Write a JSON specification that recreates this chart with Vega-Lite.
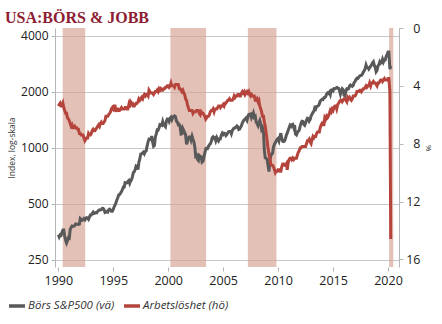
{
  "$schema": "https://vega.github.io/schema/vega-lite/v6.json",
  "width": 344,
  "height": 239,
  "autosize": {"type": "none"},
  "padding": {"left": 55, "top": 28, "right": 43, "bottom": 57},
  "title": {"text": "USA:BÖRS & JOBB", "anchor": "start", "frame": "group", "dx": -50, "dy": 4, "font": "Liberation Serif", "fontSize": 16, "fontWeight": "bold", "color": "#8c1d32", "offset": 0},
  "config": {
    "view": {"stroke": null},
    "axis": {"labelFont": "Open Sans", "titleFont": "Open Sans", "labelColor": "#222", "titleColor": "#333", "domainColor": "#b5b5b5", "tickColor": "#b5b5b5", "gridColor": "#c8c8c8"},
    "legend": {"labelFont": "Open Sans"}
  },
  "datasets": {
    "rec": [{"a": 1990.4, "b": 1992.45}, {"a": 2000.2, "b": 2003.45}, {"a": 2007.25, "b": 2009.85}, {"a": 2020.1, "b": 2020.48}],
    "sp": [
      {"t":1990.0,"v":340},{"t":1990.08,"v":331},{"t":1990.17,"v":340},{"t":1990.25,"v":338},{"t":1990.33,"v":350},{"t":1990.42,"v":361},{"t":1990.5,"v":361},{"t":1990.58,"v":335},{"t":1990.67,"v":316},{"t":1990.75,"v":307},{"t":1990.83,"v":316},{"t":1990.92,"v":328},
      {"t":1991.0,"v":326},{"t":1991.08,"v":363},{"t":1991.17,"v":372},{"t":1991.25,"v":379},{"t":1991.33,"v":378},{"t":1991.42,"v":378},{"t":1991.5,"v":381},{"t":1991.58,"v":389},{"t":1991.67,"v":388},{"t":1991.75,"v":387},{"t":1991.83,"v":386},{"t":1991.92,"v":388},
      {"t":1992.0,"v":416},{"t":1992.08,"v":412},{"t":1992.17,"v":407},{"t":1992.25,"v":409},{"t":1992.33,"v":415},{"t":1992.42,"v":409},{"t":1992.5,"v":416},{"t":1992.58,"v":421},{"t":1992.67,"v":418},{"t":1992.75,"v":412},{"t":1992.83,"v":423},{"t":1992.92,"v":435},
      {"t":1993.0,"v":435},{"t":1993.08,"v":442},{"t":1993.17,"v":450},{"t":1993.25,"v":443},{"t":1993.33,"v":445},{"t":1993.42,"v":448},{"t":1993.5,"v":447},{"t":1993.58,"v":454},{"t":1993.67,"v":460},{"t":1993.75,"v":463},{"t":1993.83,"v":462},{"t":1993.92,"v":465},
      {"t":1994.0,"v":472},{"t":1994.08,"v":471},{"t":1994.17,"v":464},{"t":1994.25,"v":448},{"t":1994.33,"v":450},{"t":1994.42,"v":454},{"t":1994.5,"v":451},{"t":1994.58,"v":464},{"t":1994.67,"v":467},{"t":1994.75,"v":462},{"t":1994.83,"v":455},{"t":1994.92,"v":455},
      {"t":1995.0,"v":465},{"t":1995.08,"v":481},{"t":1995.17,"v":493},{"t":1995.25,"v":507},{"t":1995.33,"v":523},{"t":1995.42,"v":540},{"t":1995.5,"v":558},{"t":1995.58,"v":560},{"t":1995.67,"v":571},{"t":1995.75,"v":582},{"t":1995.83,"v":595},{"t":1995.92,"v":614},
      {"t":1996.0,"v":614},{"t":1996.08,"v":649},{"t":1996.17,"v":647},{"t":1996.25,"v":648},{"t":1996.33,"v":659},{"t":1996.42,"v":667},{"t":1996.5,"v":644},{"t":1996.58,"v":662},{"t":1996.67,"v":674},{"t":1996.75,"v":701},{"t":1996.83,"v":735},{"t":1996.92,"v":743},
      {"t":1997.0,"v":767},{"t":1997.08,"v":798},{"t":1997.17,"v":792},{"t":1997.25,"v":763},{"t":1997.33,"v":834},{"t":1997.42,"v":871},{"t":1997.5,"v":925},{"t":1997.58,"v":927},{"t":1997.67,"v":938},{"t":1997.75,"v":947},{"t":1997.83,"v":928},{"t":1997.92,"v":955},
      {"t":1998.0,"v":963},{"t":1998.08,"v":1023},{"t":1998.17,"v":1077},{"t":1998.25,"v":1112},{"t":1998.33,"v":1108},{"t":1998.42,"v":1108},{"t":1998.5,"v":1156},{"t":1998.58,"v":1074},{"t":1998.67,"v":1020},{"t":1998.75,"v":1032},{"t":1998.83,"v":1144},{"t":1998.92,"v":1191},
      {"t":1999.0,"v":1248},{"t":1999.08,"v":1246},{"t":1999.17,"v":1282},{"t":1999.25,"v":1334},{"t":1999.33,"v":1332},{"t":1999.42,"v":1322},{"t":1999.5,"v":1381},{"t":1999.58,"v":1328},{"t":1999.67,"v":1318},{"t":1999.75,"v":1300},{"t":1999.83,"v":1391},{"t":1999.92,"v":1429},
      {"t":2000.0,"v":1425},{"t":2000.08,"v":1388},{"t":2000.17,"v":1442},{"t":2000.25,"v":1461},{"t":2000.33,"v":1418},{"t":2000.42,"v":1462},{"t":2000.5,"v":1473},{"t":2000.58,"v":1485},{"t":2000.67,"v":1469},{"t":2000.75,"v":1390},{"t":2000.83,"v":1379},{"t":2000.92,"v":1330},
      {"t":2001.0,"v":1336},{"t":2001.08,"v":1305},{"t":2001.17,"v":1185},{"t":2001.25,"v":1189},{"t":2001.33,"v":1270},{"t":2001.42,"v":1238},{"t":2001.5,"v":1205},{"t":2001.58,"v":1179},{"t":2001.67,"v":1044},{"t":2001.75,"v":1077},{"t":2001.83,"v":1129},{"t":2001.92,"v":1144},
      {"t":2002.0,"v":1140},{"t":2002.08,"v":1101},{"t":2002.17,"v":1153},{"t":2002.25,"v":1112},{"t":2002.33,"v":1079},{"t":2002.42,"v":1014},{"t":2002.5,"v":903},{"t":2002.58,"v":912},{"t":2002.67,"v":867},{"t":2002.75,"v":855},{"t":2002.83,"v":910},{"t":2002.92,"v":900},
      {"t":2003.0,"v":895},{"t":2003.08,"v":837},{"t":2003.17,"v":846},{"t":2003.25,"v":890},{"t":2003.33,"v":936},{"t":2003.42,"v":988},{"t":2003.5,"v":992},{"t":2003.58,"v":990},{"t":2003.67,"v":1019},{"t":2003.75,"v":1039},{"t":2003.83,"v":1050},{"t":2003.92,"v":1081},
      {"t":2004.0,"v":1132},{"t":2004.08,"v":1144},{"t":2004.17,"v":1124},{"t":2004.25,"v":1131},{"t":2004.33,"v":1091},{"t":2004.42,"v":1133},{"t":2004.5,"v":1106},{"t":2004.58,"v":1088},{"t":2004.67,"v":1118},{"t":2004.75,"v":1118},{"t":2004.83,"v":1168},{"t":2004.92,"v":1199},
      {"t":2005.0,"v":1181},{"t":2005.08,"v":1199},{"t":2005.17,"v":1195},{"t":2005.25,"v":1165},{"t":2005.33,"v":1179},{"t":2005.42,"v":1202},{"t":2005.5,"v":1222},{"t":2005.58,"v":1224},{"t":2005.67,"v":1226},{"t":2005.75,"v":1191},{"t":2005.83,"v":1237},{"t":2005.92,"v":1262},
      {"t":2006.0,"v":1278},{"t":2006.08,"v":1277},{"t":2006.17,"v":1294},{"t":2006.25,"v":1310},{"t":2006.33,"v":1295},{"t":2006.42,"v":1254},{"t":2006.5,"v":1260},{"t":2006.58,"v":1287},{"t":2006.67,"v":1317},{"t":2006.75,"v":1363},{"t":2006.83,"v":1389},{"t":2006.92,"v":1416},
      {"t":2007.0,"v":1424},{"t":2007.08,"v":1444},{"t":2007.17,"v":1407},{"t":2007.25,"v":1464},{"t":2007.33,"v":1511},{"t":2007.42,"v":1515},{"t":2007.5,"v":1520},{"t":2007.58,"v":1455},{"t":2007.67,"v":1497},{"t":2007.75,"v":1539},{"t":2007.83,"v":1463},{"t":2007.92,"v":1479},
      {"t":2008.0,"v":1378},{"t":2008.08,"v":1354},{"t":2008.17,"v":1317},{"t":2008.25,"v":1370},{"t":2008.33,"v":1404},{"t":2008.42,"v":1341},{"t":2008.5,"v":1257},{"t":2008.58,"v":1281},{"t":2008.67,"v":1217},{"t":2008.75,"v":969},{"t":2008.83,"v":883},{"t":2008.92,"v":878},
      {"t":2009.0,"v":866},{"t":2009.08,"v":806},{"t":2009.17,"v":745},{"t":2009.25,"v":848},{"t":2009.33,"v":902},{"t":2009.42,"v":926},{"t":2009.5,"v":935},{"t":2009.58,"v":1010},{"t":2009.67,"v":1045},{"t":2009.75,"v":1067},{"t":2009.83,"v":1088},{"t":2009.92,"v":1111},
      {"t":2010.0,"v":1123},{"t":2010.08,"v":1089},{"t":2010.17,"v":1152},{"t":2010.25,"v":1197},{"t":2010.33,"v":1125},{"t":2010.42,"v":1083},{"t":2010.5,"v":1080},{"t":2010.58,"v":1088},{"t":2010.67,"v":1122},{"t":2010.75,"v":1171},{"t":2010.83,"v":1199},{"t":2010.92,"v":1242},
      {"t":2011.0,"v":1282},{"t":2011.08,"v":1321},{"t":2011.17,"v":1304},{"t":2011.25,"v":1331},{"t":2011.33,"v":1338},{"t":2011.42,"v":1287},{"t":2011.5,"v":1325},{"t":2011.58,"v":1185},{"t":2011.67,"v":1173},{"t":2011.75,"v":1207},{"t":2011.83,"v":1226},{"t":2011.92,"v":1243},
      {"t":2012.0,"v":1300},{"t":2012.08,"v":1352},{"t":2012.17,"v":1389},{"t":2012.25,"v":1386},{"t":2012.33,"v":1341},{"t":2012.42,"v":1323},{"t":2012.5,"v":1359},{"t":2012.58,"v":1404},{"t":2012.67,"v":1444},{"t":2012.75,"v":1437},{"t":2012.83,"v":1394},{"t":2012.92,"v":1422},
      {"t":2013.0,"v":1480},{"t":2013.08,"v":1512},{"t":2013.17,"v":1550},{"t":2013.25,"v":1570},{"t":2013.33,"v":1639},{"t":2013.42,"v":1619},{"t":2013.5,"v":1669},{"t":2013.58,"v":1671},{"t":2013.67,"v":1688},{"t":2013.75,"v":1720},{"t":2013.83,"v":1784},{"t":2013.92,"v":1807},
      {"t":2014.0,"v":1822},{"t":2014.08,"v":1817},{"t":2014.17,"v":1863},{"t":2014.25,"v":1864},{"t":2014.33,"v":1889},{"t":2014.42,"v":1947},{"t":2014.5,"v":1973},{"t":2014.58,"v":1961},{"t":2014.67,"v":1993},{"t":2014.75,"v":1937},{"t":2014.83,"v":2044},{"t":2014.92,"v":2054},
      {"t":2015.0,"v":2028},{"t":2015.08,"v":2083},{"t":2015.17,"v":2080},{"t":2015.25,"v":2095},{"t":2015.33,"v":2111},{"t":2015.42,"v":2099},{"t":2015.5,"v":2094},{"t":2015.58,"v":2039},{"t":2015.67,"v":1944},{"t":2015.75,"v":2024},{"t":2015.83,"v":2080},{"t":2015.92,"v":2054},
      {"t":2016.0,"v":1919},{"t":2016.08,"v":1904},{"t":2016.17,"v":2022},{"t":2016.25,"v":2075},{"t":2016.33,"v":2065},{"t":2016.42,"v":2084},{"t":2016.5,"v":2149},{"t":2016.58,"v":2177},{"t":2016.67,"v":2158},{"t":2016.75,"v":2143},{"t":2016.83,"v":2165},{"t":2016.92,"v":2247},
      {"t":2017.0,"v":2275},{"t":2017.08,"v":2330},{"t":2017.17,"v":2366},{"t":2017.25,"v":2359},{"t":2017.33,"v":2395},{"t":2017.42,"v":2434},{"t":2017.5,"v":2454},{"t":2017.58,"v":2456},{"t":2017.67,"v":2493},{"t":2017.75,"v":2557},{"t":2017.83,"v":2594},{"t":2017.92,"v":2665},
      {"t":2018.0,"v":2790},{"t":2018.08,"v":2705},{"t":2018.17,"v":2703},{"t":2018.25,"v":2654},{"t":2018.33,"v":2701},{"t":2018.42,"v":2754},{"t":2018.5,"v":2794},{"t":2018.58,"v":2858},{"t":2018.67,"v":2902},{"t":2018.75,"v":2785},{"t":2018.83,"v":2723},{"t":2018.92,"v":2567},
      {"t":2019.0,"v":2607},{"t":2019.08,"v":2754},{"t":2019.17,"v":2804},{"t":2019.25,"v":2903},{"t":2019.33,"v":2854},{"t":2019.42,"v":2890},{"t":2019.5,"v":2996},{"t":2019.58,"v":2897},{"t":2019.67,"v":2983},{"t":2019.75,"v":2977},{"t":2019.83,"v":3104},{"t":2019.92,"v":3177},
      {"t":2020.0,"v":3278},{"t":2020.08,"v":3277},{"t":2020.17,"v":2652},{"t":2020.25,"v":2761}
    ],
    "u": [
      {"t":1990.0,"v":5.4},{"t":1990.08,"v":5.3},{"t":1990.17,"v":5.2},{"t":1990.25,"v":5.4},{"t":1990.33,"v":5.4},{"t":1990.42,"v":5.2},{"t":1990.5,"v":5.5},{"t":1990.58,"v":5.7},{"t":1990.67,"v":5.9},{"t":1990.75,"v":5.9},{"t":1990.83,"v":6.2},{"t":1990.92,"v":6.3},
      {"t":1991.0,"v":6.4},{"t":1991.08,"v":6.6},{"t":1991.17,"v":6.8},{"t":1991.25,"v":6.7},{"t":1991.33,"v":6.9},{"t":1991.42,"v":6.9},{"t":1991.5,"v":6.8},{"t":1991.58,"v":6.9},{"t":1991.67,"v":6.9},{"t":1991.75,"v":7.0},{"t":1991.83,"v":7.0},{"t":1991.92,"v":7.3},
      {"t":1992.0,"v":7.3},{"t":1992.08,"v":7.4},{"t":1992.17,"v":7.4},{"t":1992.25,"v":7.4},{"t":1992.33,"v":7.6},{"t":1992.42,"v":7.8},{"t":1992.5,"v":7.7},{"t":1992.58,"v":7.6},{"t":1992.67,"v":7.6},{"t":1992.75,"v":7.3},{"t":1992.83,"v":7.4},{"t":1992.92,"v":7.4},
      {"t":1993.0,"v":7.3},{"t":1993.08,"v":7.1},{"t":1993.17,"v":7.0},{"t":1993.25,"v":7.1},{"t":1993.33,"v":7.1},{"t":1993.42,"v":7.0},{"t":1993.5,"v":6.9},{"t":1993.58,"v":6.8},{"t":1993.67,"v":6.7},{"t":1993.75,"v":6.8},{"t":1993.83,"v":6.6},{"t":1993.92,"v":6.5},
      {"t":1994.0,"v":6.6},{"t":1994.08,"v":6.6},{"t":1994.17,"v":6.5},{"t":1994.25,"v":6.4},{"t":1994.33,"v":6.1},{"t":1994.42,"v":6.1},{"t":1994.5,"v":6.1},{"t":1994.58,"v":6.0},{"t":1994.67,"v":5.9},{"t":1994.75,"v":5.8},{"t":1994.83,"v":5.6},{"t":1994.92,"v":5.5},
      {"t":1995.0,"v":5.6},{"t":1995.08,"v":5.4},{"t":1995.17,"v":5.4},{"t":1995.25,"v":5.8},{"t":1995.33,"v":5.6},{"t":1995.42,"v":5.6},{"t":1995.5,"v":5.7},{"t":1995.58,"v":5.7},{"t":1995.67,"v":5.6},{"t":1995.75,"v":5.5},{"t":1995.83,"v":5.6},{"t":1995.92,"v":5.6},
      {"t":1996.0,"v":5.6},{"t":1996.08,"v":5.5},{"t":1996.17,"v":5.5},{"t":1996.25,"v":5.6},{"t":1996.33,"v":5.6},{"t":1996.42,"v":5.3},{"t":1996.5,"v":5.5},{"t":1996.58,"v":5.1},{"t":1996.67,"v":5.2},{"t":1996.75,"v":5.2},{"t":1996.83,"v":5.4},{"t":1996.92,"v":5.4},
      {"t":1997.0,"v":5.3},{"t":1997.08,"v":5.2},{"t":1997.17,"v":5.2},{"t":1997.25,"v":5.1},{"t":1997.33,"v":4.9},{"t":1997.42,"v":5.0},{"t":1997.5,"v":4.9},{"t":1997.58,"v":4.8},{"t":1997.67,"v":4.9},{"t":1997.75,"v":4.7},{"t":1997.83,"v":4.6},{"t":1997.92,"v":4.7},
      {"t":1998.0,"v":4.6},{"t":1998.08,"v":4.6},{"t":1998.17,"v":4.7},{"t":1998.25,"v":4.3},{"t":1998.33,"v":4.4},{"t":1998.42,"v":4.5},{"t":1998.5,"v":4.5},{"t":1998.58,"v":4.5},{"t":1998.67,"v":4.6},{"t":1998.75,"v":4.5},{"t":1998.83,"v":4.4},{"t":1998.92,"v":4.4},
      {"t":1999.0,"v":4.3},{"t":1999.08,"v":4.4},{"t":1999.17,"v":4.2},{"t":1999.25,"v":4.3},{"t":1999.33,"v":4.2},{"t":1999.42,"v":4.3},{"t":1999.5,"v":4.3},{"t":1999.58,"v":4.2},{"t":1999.67,"v":4.2},{"t":1999.75,"v":4.1},{"t":1999.83,"v":4.1},{"t":1999.92,"v":4.0},
      {"t":2000.0,"v":4.0},{"t":2000.08,"v":4.1},{"t":2000.17,"v":4.0},{"t":2000.25,"v":3.8},{"t":2000.33,"v":4.0},{"t":2000.42,"v":4.0},{"t":2000.5,"v":4.0},{"t":2000.58,"v":4.1},{"t":2000.67,"v":3.9},{"t":2000.75,"v":3.9},{"t":2000.83,"v":3.9},{"t":2000.92,"v":3.9},
      {"t":2001.0,"v":4.2},{"t":2001.08,"v":4.2},{"t":2001.17,"v":4.3},{"t":2001.25,"v":4.4},{"t":2001.33,"v":4.3},{"t":2001.42,"v":4.5},{"t":2001.5,"v":4.6},{"t":2001.58,"v":4.9},{"t":2001.67,"v":5.0},{"t":2001.75,"v":5.3},{"t":2001.83,"v":5.5},{"t":2001.92,"v":5.7},
      {"t":2002.0,"v":5.7},{"t":2002.08,"v":5.7},{"t":2002.17,"v":5.7},{"t":2002.25,"v":5.9},{"t":2002.33,"v":5.8},{"t":2002.42,"v":5.8},{"t":2002.5,"v":5.8},{"t":2002.58,"v":5.7},{"t":2002.67,"v":5.7},{"t":2002.75,"v":5.7},{"t":2002.83,"v":5.9},{"t":2002.92,"v":6.0},
      {"t":2003.0,"v":5.8},{"t":2003.08,"v":5.9},{"t":2003.17,"v":5.9},{"t":2003.25,"v":6.0},{"t":2003.33,"v":6.1},{"t":2003.42,"v":6.3},{"t":2003.5,"v":6.2},{"t":2003.58,"v":6.1},{"t":2003.67,"v":6.1},{"t":2003.75,"v":6.0},{"t":2003.83,"v":5.8},{"t":2003.92,"v":5.7},
      {"t":2004.0,"v":5.7},{"t":2004.08,"v":5.6},{"t":2004.17,"v":5.8},{"t":2004.25,"v":5.6},{"t":2004.33,"v":5.6},{"t":2004.42,"v":5.6},{"t":2004.5,"v":5.5},{"t":2004.58,"v":5.4},{"t":2004.67,"v":5.4},{"t":2004.75,"v":5.5},{"t":2004.83,"v":5.4},{"t":2004.92,"v":5.4},
      {"t":2005.0,"v":5.3},{"t":2005.08,"v":5.4},{"t":2005.17,"v":5.2},{"t":2005.25,"v":5.2},{"t":2005.33,"v":5.1},{"t":2005.42,"v":5.0},{"t":2005.5,"v":5.0},{"t":2005.58,"v":4.9},{"t":2005.67,"v":5.0},{"t":2005.75,"v":5.0},{"t":2005.83,"v":5.0},{"t":2005.92,"v":4.9},
      {"t":2006.0,"v":4.7},{"t":2006.08,"v":4.8},{"t":2006.17,"v":4.7},{"t":2006.25,"v":4.7},{"t":2006.33,"v":4.6},{"t":2006.42,"v":4.6},{"t":2006.5,"v":4.7},{"t":2006.58,"v":4.7},{"t":2006.67,"v":4.5},{"t":2006.75,"v":4.4},{"t":2006.83,"v":4.5},{"t":2006.92,"v":4.4},
      {"t":2007.0,"v":4.6},{"t":2007.08,"v":4.5},{"t":2007.17,"v":4.4},{"t":2007.25,"v":4.5},{"t":2007.33,"v":4.4},{"t":2007.42,"v":4.6},{"t":2007.5,"v":4.7},{"t":2007.58,"v":4.6},{"t":2007.67,"v":4.7},{"t":2007.75,"v":4.7},{"t":2007.83,"v":4.7},{"t":2007.92,"v":5.0},
      {"t":2008.0,"v":5.0},{"t":2008.08,"v":4.9},{"t":2008.17,"v":5.1},{"t":2008.25,"v":5.0},{"t":2008.33,"v":5.4},{"t":2008.42,"v":5.6},{"t":2008.5,"v":5.8},{"t":2008.58,"v":6.1},{"t":2008.67,"v":6.1},{"t":2008.75,"v":6.5},{"t":2008.83,"v":6.8},{"t":2008.92,"v":7.3},
      {"t":2009.0,"v":7.8},{"t":2009.08,"v":8.3},{"t":2009.17,"v":8.7},{"t":2009.25,"v":9.0},{"t":2009.33,"v":9.4},{"t":2009.42,"v":9.5},{"t":2009.5,"v":9.5},{"t":2009.58,"v":9.6},{"t":2009.67,"v":9.8},{"t":2009.75,"v":10.0},{"t":2009.83,"v":9.9},{"t":2009.92,"v":9.9},
      {"t":2010.0,"v":9.8},{"t":2010.08,"v":9.8},{"t":2010.17,"v":9.9},{"t":2010.25,"v":9.9},{"t":2010.33,"v":9.6},{"t":2010.42,"v":9.4},{"t":2010.5,"v":9.4},{"t":2010.58,"v":9.5},{"t":2010.67,"v":9.5},{"t":2010.75,"v":9.4},{"t":2010.83,"v":9.8},{"t":2010.92,"v":9.3},
      {"t":2011.0,"v":9.1},{"t":2011.08,"v":9.0},{"t":2011.17,"v":9.0},{"t":2011.25,"v":9.1},{"t":2011.33,"v":9.0},{"t":2011.42,"v":9.1},{"t":2011.5,"v":9.0},{"t":2011.58,"v":9.0},{"t":2011.67,"v":9.0},{"t":2011.75,"v":8.8},{"t":2011.83,"v":8.6},{"t":2011.92,"v":8.5},
      {"t":2012.0,"v":8.3},{"t":2012.08,"v":8.3},{"t":2012.17,"v":8.2},{"t":2012.25,"v":8.2},{"t":2012.33,"v":8.2},{"t":2012.42,"v":8.2},{"t":2012.5,"v":8.2},{"t":2012.58,"v":8.0},{"t":2012.67,"v":7.8},{"t":2012.75,"v":7.8},{"t":2012.83,"v":7.7},{"t":2012.92,"v":7.9},
      {"t":2013.0,"v":8.0},{"t":2013.08,"v":7.7},{"t":2013.17,"v":7.5},{"t":2013.25,"v":7.6},{"t":2013.33,"v":7.5},{"t":2013.42,"v":7.5},{"t":2013.5,"v":7.3},{"t":2013.58,"v":7.2},{"t":2013.67,"v":7.2},{"t":2013.75,"v":7.2},{"t":2013.83,"v":6.9},{"t":2013.92,"v":6.7},
      {"t":2014.0,"v":6.6},{"t":2014.08,"v":6.7},{"t":2014.17,"v":6.7},{"t":2014.25,"v":6.2},{"t":2014.33,"v":6.3},{"t":2014.42,"v":6.1},{"t":2014.5,"v":6.2},{"t":2014.58,"v":6.1},{"t":2014.67,"v":5.9},{"t":2014.75,"v":5.7},{"t":2014.83,"v":5.8},{"t":2014.92,"v":5.6},
      {"t":2015.0,"v":5.7},{"t":2015.08,"v":5.5},{"t":2015.17,"v":5.4},{"t":2015.25,"v":5.4},{"t":2015.33,"v":5.6},{"t":2015.42,"v":5.3},{"t":2015.5,"v":5.2},{"t":2015.58,"v":5.1},{"t":2015.67,"v":5.0},{"t":2015.75,"v":5.0},{"t":2015.83,"v":5.1},{"t":2015.92,"v":5.0},
      {"t":2016.0,"v":4.9},{"t":2016.08,"v":4.9},{"t":2016.17,"v":5.0},{"t":2016.25,"v":5.1},{"t":2016.33,"v":4.8},{"t":2016.42,"v":4.9},{"t":2016.5,"v":4.8},{"t":2016.58,"v":4.9},{"t":2016.67,"v":5.0},{"t":2016.75,"v":4.9},{"t":2016.83,"v":4.7},{"t":2016.92,"v":4.7},
      {"t":2017.0,"v":4.7},{"t":2017.08,"v":4.6},{"t":2017.17,"v":4.4},{"t":2017.25,"v":4.4},{"t":2017.33,"v":4.4},{"t":2017.42,"v":4.3},{"t":2017.5,"v":4.3},{"t":2017.58,"v":4.4},{"t":2017.67,"v":4.3},{"t":2017.75,"v":4.2},{"t":2017.83,"v":4.2},{"t":2017.92,"v":4.1},
      {"t":2018.0,"v":4.0},{"t":2018.08,"v":4.1},{"t":2018.17,"v":4.0},{"t":2018.25,"v":4.0},{"t":2018.33,"v":3.8},{"t":2018.42,"v":4.0},{"t":2018.5,"v":3.8},{"t":2018.58,"v":3.8},{"t":2018.67,"v":3.7},{"t":2018.75,"v":3.8},{"t":2018.83,"v":3.8},{"t":2018.92,"v":3.9},
      {"t":2019.0,"v":4.0},{"t":2019.08,"v":3.8},{"t":2019.17,"v":3.8},{"t":2019.25,"v":3.7},{"t":2019.33,"v":3.6},{"t":2019.42,"v":3.6},{"t":2019.5,"v":3.7},{"t":2019.58,"v":3.6},{"t":2019.67,"v":3.5},{"t":2019.75,"v":3.6},{"t":2019.83,"v":3.6},{"t":2019.92,"v":3.6},
      {"t":2020.0,"v":3.5},{"t":2020.08,"v":3.5},{"t":2020.17,"v":4.4},{"t":2020.25,"v":14.6}
    ]
  },
  "layer": [
    {
      "data": {"name": "rec"},
      "mark": {"type": "rect", "color": "#d6a495", "opacity": 0.68},
      "encoding": {
        "x": {"field": "a", "type": "quantitative", "scale": {"domain": [1989.7, 2021.0], "nice": false, "zero": false},
              "axis": {"orient": "bottom", "values": [1990, 1995, 2000, 2005, 2010, 2015, 2020], "format": "d", "domain": false, "grid": false, "tickSize": 4, "labelPadding": 3, "labelFontSize": 12.5, "title": null}},
        "x2": {"field": "b"}
      }
    },
    {
      "data": {"name": "sp"},
      "mark": {"type": "line", "strokeWidth": 3, "interpolate": "linear"},
      "encoding": {
        "x": {"field": "t", "type": "quantitative"},
        "y": {"field": "v", "type": "quantitative", "scale": {"type": "log", "domain": [228, 4416], "nice": false},
              "axis": {"orient": "left", "values": [250, 500, 1000, 2000, 4000], "format": "d", "grid": true, "tickSize": 4, "labelPadding": 3, "labelFontSize": 12, "title": "Index, log-skala", "titleFontSize": 8.5, "titleFontWeight": "normal", "titlePadding": 4}},
        "color": {"datum": "Börs S&P500 (vä)", "type": "nominal",
                  "scale": {"domain": ["Börs S&P500 (vä)", "Arbetslöshet (hö)"], "range": ["#595959", "#b5443c"]},
                  "legend": {"orient": "none", "legendX": -48, "legendY": 268, "direction": "horizontal", "title": null, "symbolType": "stroke", "symbolStrokeWidth": 3.5, "symbolSize": 256, "labelFontSize": 11.5, "labelFontStyle": "italic", "labelColor": "#333", "labelOffset": 1, "columnPadding": 2}}
      }
    },
    {
      "data": {"name": "u"},
      "mark": {"type": "line", "strokeWidth": 3, "interpolate": "linear"},
      "encoding": {
        "x": {"field": "t", "type": "quantitative"},
        "y": {"field": "v", "type": "quantitative", "scale": {"domain": [0, 16.53], "reverse": true, "nice": false, "zero": false},
              "axis": {"orient": "right", "values": [0, 4, 8, 12, 16], "grid": false, "tickSize": 4, "labelPadding": 17, "labelAlign": "right", "labelFontSize": 12.5, "title": "%", "titleFontSize": 8, "titleFontWeight": "normal", "titlePadding": 3}},
        "color": {"datum": "Arbetslöshet (hö)", "type": "nominal"}
      }
    }
  ],
  "resolve": {"scale": {"y": "independent"}}
}
